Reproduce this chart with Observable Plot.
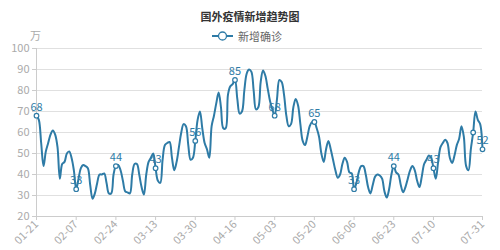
<!DOCTYPE html>
<html><head><meta charset="utf-8">
<script src="https://cdn.jsdelivr.net/npm/d3@7"></script>
<script src="https://cdn.jsdelivr.net/npm/@observablehq/plot@0.6"></script>
<style>
body{margin:0;background:#fff;}
#wrap{position:relative;width:500px;height:250px;font-family:"Noto Sans CJK SC","Noto Sans",sans-serif;}
#title{position:absolute;top:9px;left:0;width:500px;text-align:center;font-size:11px;font-weight:bold;color:#333;line-height:14px;}
#legend{position:absolute;top:29px;left:212px;font-size:11px;color:#666;line-height:14px;display:flex;align-items:center;}
#unit{position:absolute;top:28px;left:30px;font-size:11px;color:#aaa;line-height:14px;}
#chart{position:absolute;top:0;left:0;}
</style></head>
<body>
<div id="wrap">
  <div id="chart"></div>
  <div id="title">国外疫情新增趋势图</div>
  <div id="legend"><svg width="22" height="12" style="margin-right:4px"><line x1="0" y1="6" x2="21" y2="6" stroke="#2e7ba6" stroke-width="2"/><circle cx="10.5" cy="6" r="4" fill="#fff" stroke="#2e7ba6" stroke-width="1.3"/></svg><span>新增确诊</span></div>
  <div id="unit">万</div>
</div>
<script>
const seriesName = "新增确诊";
const startDate = "2021-01-21";
const values = [
68,66,55,44,51,55,59,61,59,53,38,45,46,50,51,48,42,33,38,43,
44.5,44,43,35,28.5,31,36,40,40,40.5,36,31,31,40,44,44.5,42,37,32,31.5,
31,40,45,45,40,34,30.5,40,46,48,50,43,37,36,47,54,55,55.5,48,42,
46,53,60,64,63,54,47,48,56,66,70,62,55,52,48,63,68,74,79,72,
62,62,78,82,83,85,76,69,70,80,88,90,89,80,71,72,84,89.5,87,81,
75,71,68,76,85,84,78,68,63,64,72,76,73,64,56,54,58,63,65,65,
62,58,50,46,52,56,52,47,42,38.5,40,45,48,46,41,40.5,33,36,41,44,
44,40,34,31,35,39,40,39.5,38,32,29,33,40,44,41,40,35,31.5,34,38,
42,44,42,37,34,39,45,47,49,48,43,38,46,53,55,56.5,55,48,45.5,49,
54,57,63,58,44,42,52,60,70,66,64,52
];
const tickLabels = ["01-21","02-07","02-24","03-13","03-30","04-16","05-03","05-20","06-06","06-23","07-10","07-31"];
const markerIdx = [0,17,34,51,68,85,102,119,136,153,170,187,191];
const labelIdx = [0,17,34,51,68,85,102,119,136,153,170,191];
const yTicks = [20,30,40,50,60,70,80,90,100];

const color = "#2e7ba6";
const t0 = new Date(startDate + "T00:00:00Z").getTime();
const data = values.map((v, i) => ({date: new Date(t0 + i * 864e5), value: v, i}));
const tickDates = tickLabels.map(s => new Date("2021-" + s + "T00:00:00Z"));
const fmt = d3.utcFormat("%m-%d");

const chart = Plot.plot({
  width: 500, height: 250,
  marginLeft: 36, marginRight: 18, marginTop: 48, marginBottom: 34,
  style: {fontFamily: '"Noto Sans CJK SC","Noto Sans",sans-serif', fontSize: "11px", background: "transparent"},
  x: {type: "utc", domain: [data[0].date, data[data.length-1].date]},
  y: {domain: [20, 100]},
  marks: [
    Plot.gridY(yTicks, {stroke: "#e0e0e0", strokeOpacity: 1}),
    Plot.ruleX([data[0].date], {stroke: "#ccc"}),
    Plot.ruleY([20], {stroke: "#ccc"}),
    Plot.axisY(yTicks, {tickSize: 4, tickPadding: 3, fill: "#aaa", stroke: "#ccc", label: null, fontSize: 11}),
    Plot.axisX(tickDates, {tickFormat: fmt, tickRotate: -45, tickSize: 4, tickPadding: 2, fill: "#aaa", stroke: "#ccc", label: null, fontSize: 11}),
    Plot.line(data, {x: "date", y: "value", curve: "catmull-rom", stroke: color, strokeWidth: 2}),
    Plot.dot(data.filter(d => markerIdx.includes(d.i)), {x: "date", y: "value", r: 2.3, fill: "#fff", stroke: color, strokeWidth: 1.2}),
    Plot.text(data.filter(d => labelIdx.includes(d.i)), {x: "date", y: "value", text: d => String(Math.round(d.value)), lineAnchor: "bottom", dy: -5, fill: color, fontSize: 11})
  ]
});
document.getElementById("chart").appendChild(chart);
</script>
</body></html>
